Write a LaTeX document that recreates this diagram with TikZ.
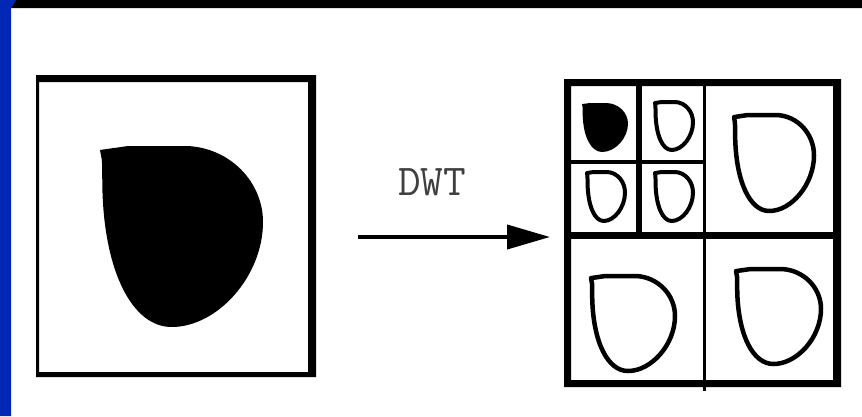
\documentclass[tikz,border=0pt]{standalone}
\usetikzlibrary{arrows.meta}
\definecolor{slideblue}{RGB}{0,40,180}
\tikzset{
  drop/.pic={\path[pic actions] (0.012,0.08) -- (0,0.022) -- (0.172,0) -- (0.534,0) .. controls (0.8,0.01) and (1,0.2) .. (1,0.42) .. controls (1,0.72) and (0.72,1) .. (0.44,1) .. controls (0.2,1) and (0.03,0.7) .. (0.015,0.25) -- cycle;},
  soliddrop/.style={fill=black},
  hollowdrop/.style={draw=black, line width=4.5pt, line join=round},
  smalldrop/.style={draw=black, line width=4pt, line join=round},
  boxframe/.style={fill=black, even odd rule},
  divider/.style={fill=black},
  arrowline/.style={draw=black, line width=4pt, -{Triangle[length=43pt,width=24pt]}},
  dwtlabel/.style={font=\ttfamily\fontsize{44}{50}\selectfont, text=black!75, inner sep=0pt}
}
\begin{document}
\begin{tikzpicture}[x=1pt, y=-1pt]
\useasboundingbox (0,0) rectangle (862,416);
\fill[white] (0,0) rectangle (862,416);
% slide decoration
\fill[slideblue] (0,0) -- (16,0) -- (11,8) -- (11,416) -- (0,416) -- cycle;
\fill[black] (16,0) -- (862,0) -- (862,8) -- (11,8) -- cycle;
% left image
\fill[boxframe] (36,75) rectangle (316,377) (39,82) rectangle (308,372);
\pic[soliddrop, xscale=163, yscale=181] at (100,146) {drop};
% arrow and label
\coordinate (dwtstart) at (358,237);
\coordinate (dwtend) at (550,237);
\draw[arrowline] (dwtstart) -- (dwtend);
\node[dwtlabel, anchor=base] (dwt) at (432,195) {DWT};
% right image frame and dividers
\fill[boxframe] (564,79) rectangle (841,387) (571,86) rectangle (833,380);
\fill[divider] (703,79) rectangle (706,391);
\fill[divider] (564,232) rectangle (841,239);
\fill[divider] (636,79) rectangle (642,233);
\fill[divider] (564,160) rectangle (703,164);
% subband shapes
\pic[soliddrop, xscale=46, yscale=49] at (582,103) {drop};
\pic[smalldrop, xscale=38, yscale=48] at (655,102) {drop};
\pic[smalldrop, xscale=38, yscale=49] at (587,172) {drop};
\pic[smalldrop, xscale=38, yscale=49] at (655,172) {drop};
\pic[hollowdrop, xscale=80, yscale=96] at (734,115) {drop};
\pic[hollowdrop, xscale=84, yscale=95] at (591,276) {drop};
\pic[hollowdrop, xscale=85, yscale=95] at (736,269) {drop};
\end{tikzpicture}
\end{document}
